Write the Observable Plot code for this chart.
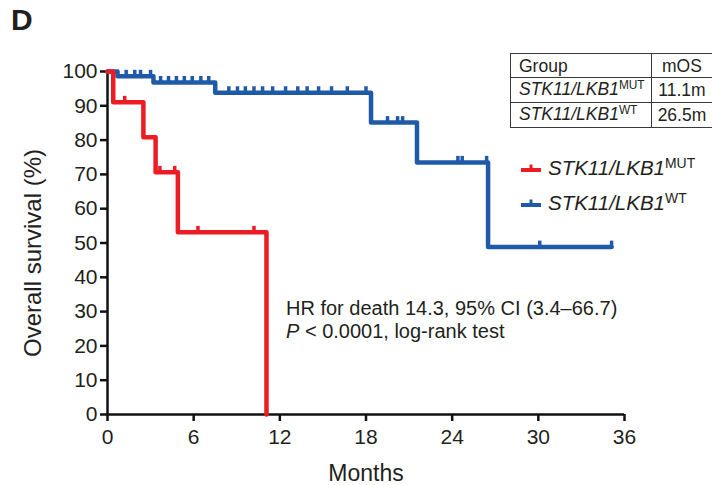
<!DOCTYPE html>
<html><head><meta charset="utf-8">
<script src="https://cdn.jsdelivr.net/npm/d3@7"></script>
<script src="https://cdn.jsdelivr.net/npm/@observablehq/plot@0.6"></script>
<style>
body{margin:0;background:#fff;font-family:"Liberation Sans",Arial,Helvetica,sans-serif;color:#231f20;}
#wrap{position:relative;width:712px;height:485px;overflow:hidden;}
#chart{position:absolute;left:0;top:0;}
.ov{position:absolute;white-space:nowrap;}
#panel{left:11px;top:3px;font-weight:bold;font-size:30px;}
#note{left:286px;top:297px;font-size:20px;line-height:22.5px;}
#tbl{position:absolute;left:510px;top:53px;border-collapse:collapse;font-size:17.5px;}
#tbl td{border:1.5px solid #3a3a3a;height:23px;padding:0 6px 0 8px;line-height:22px;}
#tbl td.c2{text-align:center;width:44px;padding:0 6px;}
#tbl td.c1{width:127px;}
.sup{font-style:normal;font-size:0.68em;position:relative;top:-0.48em;}
#legend .row{position:absolute;left:520px;height:24px;display:flex;align-items:center;font-size:20.5px;}
#legend svg{margin-right:6px;}
</style></head><body>
<div id="wrap">
<div id="chart"></div>
<div class="ov" id="panel">D</div>
<div class="ov" id="note"></div>
<table id="tbl"></table>
<div id="legend"></div>
</div>
<script>
// ---- data ----
const groupBase = "STK11/LKB1";
const groupSuffix = ["MUT", "WT"];
const groupColors = ["#ec1c24", "#1f5aa8"];
const mOS = ["11.1m", "26.5m"];

// MUT group: step curve (time in months, survival %)
const mutTime = [0, 0.4, 2.5, 3.35, 4.9, 11.07];
const mutSurv = [100, 91, 80.8, 70.6, 53.1, 0];
const mutCensorTime = [1.2, 3.65, 4.68, 6.3, 10.2];
const mutCensorSurv = [91, 70.6, 70.6, 53.1, 53.1];

// WT group
const wtTime = [0, 0.7, 3.2, 7.5, 18.35, 21.55, 26.5, 35.1];
const wtSurv = [100, 98.6, 96.8, 93.8, 85.1, 73.5, 48.8, 48.8];
const wtCensorTime = [1.3, 1.9, 2.3, 3.0, 3.7, 4.25, 4.8, 5.35, 5.9, 6.5, 7.05, 8.45, 9.05, 9.6, 10.2, 10.8, 11.5, 12.4, 13.25, 13.9, 14.7, 15.6, 16.7, 18.0, 19.5, 20.2, 20.55, 24.4, 24.7, 26.4, 30.1, 35.1];
const wtCensorSurv = [98.6, 98.6, 98.6, 98.6, 96.8, 96.8, 96.8, 96.8, 96.8, 96.8, 96.8, 93.8, 93.8, 93.8, 93.8, 93.8, 93.8, 93.8, 93.8, 93.8, 93.8, 93.8, 93.8, 93.8, 85.1, 85.1, 85.1, 73.5, 73.5, 73.5, 48.8, 48.8];

const xTicks = [0, 6, 12, 18, 24, 30, 36];
const yTicks = [0, 10, 20, 30, 40, 50, 60, 70, 80, 90, 100];
const xLabel = "Months";
const yLabel = "Overall survival (%)";
const noteLine1 = "HR for death 14.3, 95% CI (3.4–66.7)";
const noteLine2 = " < 0.0001, log-rank test";

// ---- build tables ----
const mutLine = mutTime.map((t, i) => ({t, s: mutSurv[i]}));
const wtLine = wtTime.map((t, i) => ({t, s: wtSurv[i]}));
const mutCens = mutCensorTime.map((t, i) => ({t, s: mutCensorSurv[i]}));
const wtCens = wtCensorTime.map((t, i) => ({t, s: wtCensorSurv[i]}));

const tickUp = {draw(ctx, size) { ctx.moveTo(0, 1); ctx.lineTo(0, -6.5); }};
const font = '"Liberation Sans", Arial, Helvetica, sans-serif';

const chart = Plot.plot({
  width: 712, height: 485,
  marginLeft: 107, marginRight: 88, marginTop: 71, marginBottom: 71,
  style: {fontFamily: font, color: "#231f20", background: "white", overflow: "visible"},
  x: {domain: [0, 36]},
  y: {domain: [0, 100]},
  marks: [
    Plot.axisX({ticks: xTicks, tickSize: 7, tickPadding: 8, strokeWidth: 2.5, fontSize: 21,
      label: xLabel, labelAnchor: "center", labelOffset: 66, labelArrow: "none"}),
    Plot.axisY({ticks: yTicks, tickSize: 7, tickPadding: 3, strokeWidth: 2.5, fontSize: 21,
      label: yLabel, labelAnchor: "center", labelOffset: 84, labelArrow: "none"}),
    Plot.ruleX([0], {y1: 0, y2: 100, stroke: "#111", strokeWidth: 2.5}),
    Plot.ruleY([0], {x1: 0, x2: 36, stroke: "#111", strokeWidth: 2.5}),
    Plot.line(wtLine, {x: "t", y: "s", curve: "step-after", stroke: groupColors[1], strokeWidth: 4.5}),
    Plot.dot(wtCens, {x: "t", y: "s", symbol: tickUp, r: 4, fill: "none", stroke: groupColors[1], strokeWidth: 3.5}),
    Plot.line(mutLine, {x: "t", y: "s", curve: "step-after", stroke: groupColors[0], strokeWidth: 4.5}),
    Plot.dot(mutCens, {x: "t", y: "s", symbol: tickUp, r: 4, fill: "none", stroke: groupColors[0], strokeWidth: 3.5})
  ]
});
chart.querySelectorAll('[aria-label="x-axis label"] text').forEach(t => t.setAttribute("font-size", "23"));
chart.querySelectorAll('[aria-label="y-axis label"]').forEach(g => {
  g.setAttribute("transform", ((g.getAttribute("transform") || "") + " translate(0,10)").trim());
  g.querySelectorAll("text").forEach(t => t.setAttribute("font-size", "24"));
});
chart.querySelectorAll('[aria-label="x-axis tick"], [aria-label="y-axis tick"]').forEach(g => g.setAttribute("stroke", "#111"));
document.getElementById("chart").appendChild(chart);

// note
document.getElementById("note").innerHTML = noteLine1 + "<br><i>P</i>" + noteLine2.replace("<", "&lt;");

// table
const tbl = document.getElementById("tbl");
let html = '<tr><td class="c1">Group</td><td class="c2">mOS</td></tr>';
groupSuffix.forEach((g, i) => {
  html += `<tr><td class="c1"><i>${groupBase}</i><span class="sup">${g}</span></td><td class="c2">${mOS[i]}</td></tr>`;
});
tbl.innerHTML = html;

// legend
const legend = document.getElementById("legend");
const legendTop = [156, 191];
groupSuffix.forEach((g, i) => {
  const row = document.createElement("div");
  row.className = "row";
  row.style.top = legendTop[i] + "px";
  row.innerHTML = `<svg width="22" height="14"><line x1="1" x2="21" y1="9" y2="9" stroke="${groupColors[i]}" stroke-width="4"/><line x1="11" x2="11" y1="9" y2="3.5" stroke="${groupColors[i]}" stroke-width="3"/></svg><span><i>${groupBase}</i><span class="sup">${g}</span></span>`;
  legend.appendChild(row);
});
</script>
</body></html>
